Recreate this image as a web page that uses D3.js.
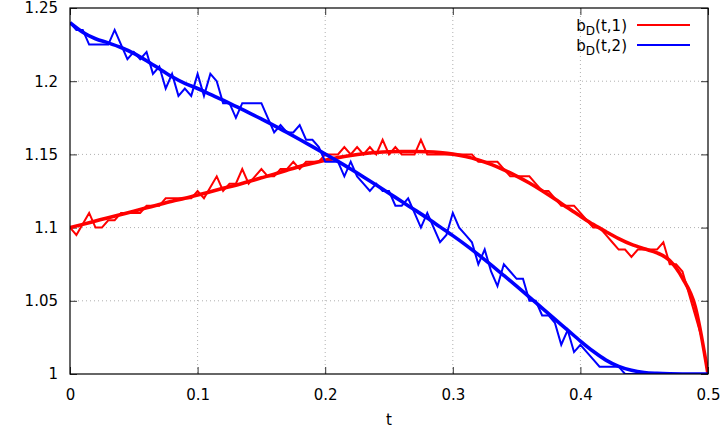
<!DOCTYPE html>
<html><head><meta charset="utf-8">
<script src="https://cdn.jsdelivr.net/npm/d3@7"></script>
<style>
body{margin:0;background:#fff;}
text{font-family:"DejaVu Sans",sans-serif;}
</style></head>
<body><svg id="c" width="725" height="430"></svg>
<script>
// t grid: noisy samples every 0.005, smooth fits every 0.01
const tNoisy = d3.range(0, 101).map(i => +(i * 0.005).toFixed(3));
const tSmooth = d3.range(0, 51).map(i => +(i * 0.01).toFixed(2));

const redNoisy = [1.1,1.095,1.1025,1.11,1.1,1.1,1.105,1.105,1.11,1.11,
1.11,1.11,1.115,1.115,1.115,1.12,1.12,1.12,1.12,1.12,
1.125,1.12,1.1275,1.135,1.125,1.13,1.13,1.14,1.13,1.135,
1.14,1.135,1.135,1.14,1.14,1.145,1.14,1.145,1.145,1.145,
1.15,1.15,1.15,1.155,1.15,1.155,1.15,1.155,1.15,1.16,
1.15,1.155,1.15,1.15,1.15,1.16,1.15,1.15,1.15,1.15,
1.15,1.15,1.15,1.15,1.145,1.145,1.145,1.145,1.14,1.135,
1.135,1.135,1.135,1.13,1.125,1.125,1.12,1.115,1.115,1.115,
1.11,1.105,1.1,1.1,1.095,1.09,1.085,1.085,1.08,1.085,
1.085,1.085,1.085,1.09,1.075,1.075,1.07,1.055,1.04,1.025,1.0];

const blueNoisy = [1.24,1.235,1.235,1.225,1.225,1.225,1.225,1.235,1.225,1.215,
1.22,1.215,1.22,1.205,1.21,1.195,1.205,1.19,1.195,1.19,
1.205,1.19,1.205,1.2,1.185,1.185,1.175,1.185,1.185,1.185,
1.185,1.175,1.165,1.17,1.165,1.165,1.17,1.16,1.16,1.155,
1.145,1.145,1.145,1.135,1.145,1.135,1.13,1.125,1.13,1.125,
1.125,1.115,1.115,1.12,1.11,1.1,1.11,1.1,1.09,1.095,
1.11,1.1,1.095,1.09,1.075,1.085,1.07,1.06,1.075,1.07,
1.065,1.065,1.05,1.05,1.04,1.04,1.035,1.02,1.03,1.015,
1.02,1.015,1.01,1.005,1.005,1.005,1.005,1.0,1.0,1.0,
1.0,1.0,1.0,1.0,1.0,1.0,1.0,1.0,1.0,1.0,1.0];

const redSmooth = [1.1,1.1022,1.1045,1.1068,1.109,1.1112,1.1135,1.1158,1.118,1.12,
1.1222,1.1245,1.1268,1.129,1.1315,1.134,1.1365,1.1392,1.1418,1.144,
1.146,1.1478,1.1493,1.1505,1.1513,1.1518,1.152,1.152,1.1518,1.1512,
1.1502,1.1485,1.1462,1.1432,1.1395,1.1352,1.1305,1.1252,1.1195,1.1135,
1.1078,1.1022,1.0972,1.0925,1.0885,1.0855,1.0828,1.0775,1.0655,1.046,1.0];

const blueSmooth = [1.24,1.2335,1.229,1.2262,1.223,1.219,1.214,1.2085,1.203,1.1985,
1.195,1.191,1.187,1.1828,1.1786,1.1742,1.1697,1.165,1.1602,1.1553,
1.1503,1.1452,1.14,1.1346,1.1291,1.1235,1.1178,1.1122,1.1065,1.1005,
1.0945,1.0882,1.0815,1.0745,1.0673,1.06,1.0525,1.045,1.0375,1.03,
1.0225,1.0155,1.0095,1.0052,1.0025,1.001,1.0004,1.0001,1.0,1.0,1.0];

const xTicks = [0,0.1,0.2,0.3,0.4,0.5];
const yTicks = [1,1.05,1.1,1.15,1.2,1.25];
const xTickLabels = ["0","0.1","0.2","0.3","0.4","0.5"];
const yTickLabels = ["1","1.05","1.1","1.15","1.2","1.25"];
const legendLabels = ["t,1","t,2"];
const colors = ["#ff0000","#0000ff"];

const L = 70, R = 708, T = 8, B = 374;
const x = d3.scaleLinear().domain([0,0.5]).range([L,R]);
const y = d3.scaleLinear().domain([1,1.25]).range([B,T]);
const svg = d3.select("#c");

// grid
const g = svg.append("g");
g.selectAll(".gx").data(xTicks.slice(1,-1)).join("line")
 .attr("x1",d=>x(d)).attr("x2",d=>x(d)).attr("y1",T).attr("y2",B)
 .attr("stroke","#b0b0b0").attr("stroke-width",1).attr("stroke-dasharray","1,3");
g.selectAll(".gy").data(yTicks.slice(1,-1)).join("line")
 .attr("y1",d=>y(d)).attr("y2",d=>y(d)).attr("x1",L).attr("x2",R)
 .attr("stroke","#b0b0b0").attr("stroke-width",1).attr("stroke-dasharray","1,3");

// axes with inward ticks
const fs = 15;
const ax = svg.append("g").attr("transform",`translate(0,${B})`)
 .call(d3.axisBottom(x).tickValues(xTicks).tickFormat((d,i)=>xTickLabels[i]).tickSizeInner(-7).tickSizeOuter(0).tickPadding(15));
const axT = svg.append("g").attr("transform",`translate(0,${T})`)
 .call(d3.axisTop(x).tickValues(xTicks).tickFormat("").tickSizeInner(-7).tickSizeOuter(0));
const ay = svg.append("g").attr("transform",`translate(${L},0)`)
 .call(d3.axisLeft(y).tickValues(yTicks).tickFormat((d,i)=>yTickLabels[i]).tickSizeInner(-7).tickSizeOuter(0).tickPadding(12));
const ayR = svg.append("g").attr("transform",`translate(${R},0)`)
 .call(d3.axisRight(y).tickValues(yTicks).tickFormat("").tickSizeInner(-7).tickSizeOuter(0));
[ax,axT,ay,ayR].forEach(a=>{
  a.select(".domain").remove();
  a.selectAll(".tick line").attr("stroke","#333");
  a.selectAll("text").attr("font-size",fs).attr("fill","#000").attr("font-family","DejaVu Sans, sans-serif");
});

svg.append("text").attr("x",(L+R)/2).attr("y",425).attr("text-anchor","middle")
 .attr("font-size",fs).text("t");

// data lines
const clip = svg.append("clipPath").attr("id","clp").append("rect")
 .attr("x",L).attr("y",T).attr("width",R-L).attr("height",B-T);
const line = d3.line().x(d=>x(d[0])).y(d=>y(d[1]));
const sline = d3.line().x(d=>x(d[0])).y(d=>y(d[1])).curve(d3.curveMonotoneX);
const pl = svg.append("g").attr("clip-path","url(#clp)");
const series = [
  {t:tNoisy, v:redNoisy, c:colors[0], w:2, s:false},
  {t:tSmooth, v:redSmooth, c:colors[0], w:3.6, s:true},
  {t:tNoisy, v:blueNoisy, c:colors[1], w:2, s:false},
  {t:tSmooth, v:blueSmooth, c:colors[1], w:3.6, s:true}
];
series.forEach(se=>{
  pl.append("path").datum(se.t.map((t,i)=>[t,se.v[i]]))
    .attr("d", se.s ? sline : line)
    .attr("fill","none").attr("stroke",se.c).attr("stroke-width",se.w)
    .attr("stroke-linejoin","miter").attr("stroke-miterlimit",4);
});

// border
svg.append("rect").attr("x",L).attr("y",T).attr("width",R-L).attr("height",B-T)
 .attr("fill","none").attr("stroke","#000").attr("stroke-width",1.2);

// legend
legendLabels.forEach((lab,i)=>{
  const yy = 25 + i*20;
  const tx = svg.append("text").attr("x",627).attr("y",yy+6).attr("text-anchor","end").attr("font-size",fs);
  tx.append("tspan").text("b");
  tx.append("tspan").attr("font-size",fs*0.8).attr("dy",4).text("D");
  tx.append("tspan").attr("dy",-4).text("(" + lab + ")");
  svg.append("line").attr("x1",637).attr("x2",690).attr("y1",yy).attr("y2",yy)
    .attr("stroke",colors[i]).attr("stroke-width",2);
});
</script></body></html>
